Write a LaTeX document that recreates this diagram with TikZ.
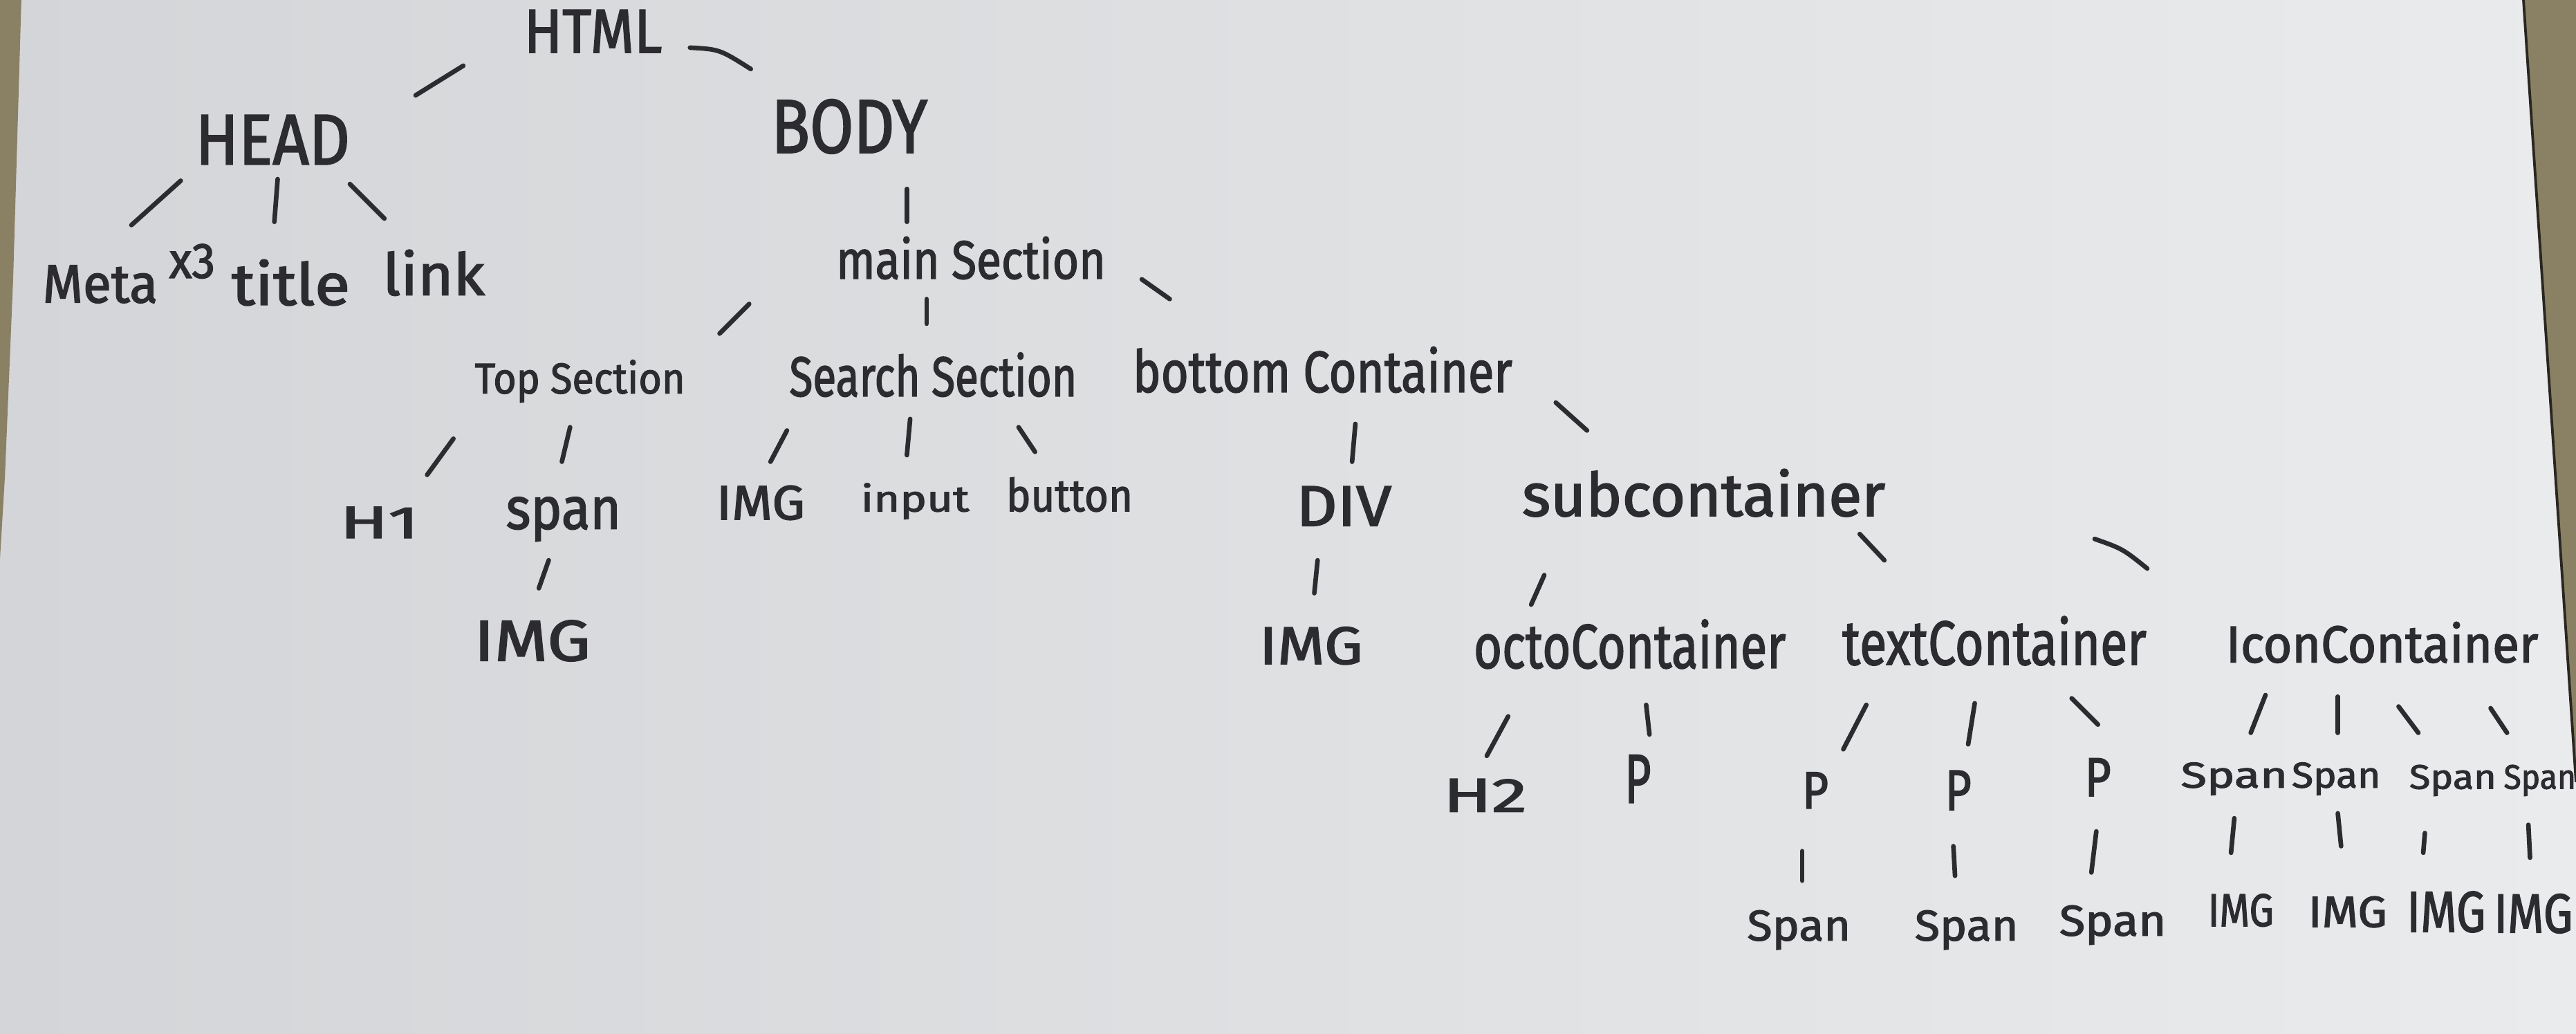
\documentclass[tikz,border=0pt]{standalone}
\usepackage{fontspec}
\setmainfont{Fira Sans}
\newfontfamily\inkfont{Fira Sans}[FakeBold=2]
\usepackage{graphicx}

\definecolor{paperL}{HTML}{D3D5D8}
\definecolor{paperR}{HTML}{E9EBEC}
\definecolor{ink}{HTML}{2C2C30}
\definecolor{wood}{HTML}{8A8064}
\definecolor{woodDark}{HTML}{2A2620}

% handwritten-looking label squeezed into a given box (width, total height)
\newcommand\hw[3]{\resizebox*{#1pt}{#2pt}{#3}}
% a short pen stroke between two named points
\newcommand\penline[3]{%
  \coordinate (#1-a) at (#2);
  \coordinate (#1-b) at (#3);
  \draw[pen] (#1-a) -- (#1-b);}

\begin{document}
\begin{tikzpicture}[x=1pt,y=-1pt,
  tag/.style={inner sep=0pt, outer sep=0pt, text=ink, anchor=center, font=\inkfont},
  pen/.style={draw=ink, line width=2.8pt, line cap=round}]

\useasboundingbox (0,0) rectangle (1568,629);

% sheet of paper on the desk
\shade[left color=paperL, right color=paperR] (0,0) rectangle (1568,629);
\fill[wood] (0,0) -- (13,0) -- (8,170) -- (3,290) -- (0,340) -- cycle;
\fill[wood] (1536,0) -- (1568,0) -- (1568,476) -- cycle;
\draw[woodDark, line width=1.6pt] (1536,0) -- (1568,476);

% ---- labels ----
\node[tag] (html)   at (361,19)  {\hw{84}{26}{HTML}};
\node[tag] (head)   at (166,85)  {\hw{94}{30}{HEAD}};
\node[tag] (body)   at (517,77)  {\hw{95}{33}{BODY}};
\node[tag] (meta)   at (61,173)  {\hw{70}{23}{Meta}};
\node[tag] (metax)  at (117,159) {\hw{28}{21}{x3}};
\node[tag] (title)  at (177,172) {\hw{72}{28}{title}};
\node[tag] (link)   at (264,166) {\hw{62}{28}{link}};

\node[tag] (main)   at (591,157) {\hw{164}{26}{main Section}};
\node[tag] (top)    at (353,232) {\hw{128}{26}{Top Section}};
\node[tag] (search) at (568,228) {\hw{175}{27}{Search Section}};
\node[tag] (bottom) at (805,225) {\hw{231}{28}{bottom Container}};

\node[tag] (h1)     at (231,318) {\hw{48}{19}{H1}};
\node[tag] (span0)  at (343,316) {\hw{70}{27}{span}};
\node[tag] (img1)   at (463,306) {\hw{54}{21}{IMG}};
\node[tag] (input)  at (557,305) {\hw{66}{22}{input}};
\node[tag] (button) at (651,301) {\hw{77}{21}{button}};
\node[tag] (div)    at (818,308) {\hw{58}{24}{DIV}};
\node[tag] (sub)    at (1037,300){\hw{221}{29}{subcontainer}};

\node[tag] (img2)   at (324,390) {\hw{71}{25}{IMG}};
\node[tag] (img3)   at (798,393) {\hw{63}{23}{IMG}};
\node[tag] (octo)   at (992,392) {\hw{190}{30}{octoContainer}};
\node[tag] (text)   at (1214,390){\hw{185}{30}{textContainer}};
\node[tag] (icon)   at (1450,391){\hw{190}{25}{IconContainer}};

\node[tag] (h2)     at (904,484) {\hw{51}{20}{H2}};
\node[tag] (p0)     at (997,474) {\hw{16}{29}{P}};
\node[tag] (p1)     at (1105,481){\hw{16}{22}{P}};
\node[tag] (p2)     at (1192,481){\hw{16}{24}{P}};
\node[tag] (p3)     at (1277,473){\hw{16}{23}{P}};
\node[tag] (s1)     at (1360,474){\hw{65}{20}{Span}};
\node[tag] (s2)     at (1422,474){\hw{54}{20}{Span}};
\node[tag] (s3)     at (1493,475){\hw{53}{19}{Span}};
\node[tag] (s4)     at (1546,475){\hw{44}{19}{Span}};

\node[tag] (ps1)    at (1095,566){\hw{63}{24}{Span}};
\node[tag] (ps2)    at (1197,566){\hw{63}{24}{Span}};
\node[tag] (ps3)    at (1286,563){\hw{65}{24}{Span}};
\node[tag] (si1)    at (1364,554){\hw{40}{20}{IMG}};
\node[tag] (si2)    at (1429,555){\hw{48}{19}{IMG}};
\node[tag] (si3)    at (1489,555){\hw{48}{25}{IMG}};
\node[tag] (si4)    at (1542,556){\hw{48}{24}{IMG}};

% ---- pen strokes between the levels ----
\coordinate (e2-a) at (420,29);
\coordinate (e2-b) at (457,42);
\draw[pen] (e2-a) .. controls (438,30) .. (e2-b);
\penline{e1}{282,40}{253,58}
\penline{e3}{110,110}{80,137}
\penline{e4}{169,109}{167,135}
\penline{e5}{213,112}{234,133}
\penline{e6}{552,115}{552,135}
\penline{e7}{456,185}{438,203}
\penline{e8}{564,182}{564,197}
\penline{e9}{695,170}{712,182}
\penline{e10}{276,267}{260,289}
\penline{e11}{347,260}{342,281}
\penline{e12}{479,262}{469,281}
\penline{e13}{554,255}{552,277}
\penline{e14}{620,260}{630,275}
\penline{e15}{825,258}{823,281}
\penline{e16}{947,245}{966,262}
\penline{e17}{334,341}{328,358}
\penline{e18}{802,341}{800,361}
\penline{e19}{940,350}{932,368}
\penline{e20}{1132,325}{1147,341}
\coordinate (e21-a) at (1275,328);
\coordinate (e21-b) at (1307,346);
\draw[pen] (e21-a) .. controls (1292,334) .. (e21-b);
\penline{e22}{918,436}{905,460}
\penline{e23}{1002,429}{1004,447}
\penline{e24}{1136,429}{1122,456}
\penline{e25}{1202,428}{1198,453}
\penline{e26}{1261,425}{1277,441}
\penline{e27}{1379,423}{1370,446}
\penline{e28}{1423,424}{1423,446}
\penline{e29}{1460,430}{1472,446}
\penline{e30}{1516,431}{1526,446}
\penline{e31}{1097,518}{1097,536}
\penline{e32}{1189,515}{1190,533}
\penline{e33}{1276,506}{1273,531}
\penline{e34}{1360,498}{1358,519}
\penline{e35}{1423,495}{1425,515}
\penline{e36}{1476,507}{1475,519}
\penline{e37}{1539,502}{1540,522}

\end{tikzpicture}
\end{document}
